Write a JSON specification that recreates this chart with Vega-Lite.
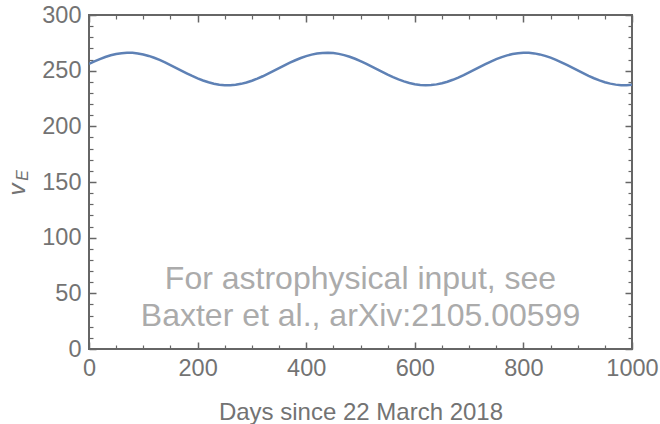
{
  "$schema": "https://vega.github.io/schema/vega-lite/v6.json",
  "width": 543,
  "height": 334,
  "autosize": {"type": "none"},
  "padding": {"left": 89, "top": 15, "right": 28, "bottom": 75},
  "background": "white",
  "config": {
    "view": {"stroke": "#666666", "strokeWidth": 2},
    "axis": {
      "domain": false,
      "grid": false,
      "labelFont": "Liberation Sans",
      "titleFont": "Liberation Sans",
      "labelColor": "#737373",
      "titleColor": "#737373",
      "tickColor": "#666666",
      "labelFontSize": 23.5,
      "labelFontWeight": "normal",
      "titleFontWeight": "normal"
    }
  },
  "datasets": {
    "curve": [
      {"day": 0, "v": 256.02}, {"day": 10, "v": 258.33}, {"day": 20, "v": 260.44}, {"day": 30, "v": 262.29},
      {"day": 40, "v": 263.81}, {"day": 50, "v": 264.97}, {"day": 60, "v": 265.74}, {"day": 70, "v": 266.08},
      {"day": 80, "v": 265.99}, {"day": 90, "v": 265.48}, {"day": 100, "v": 264.55}, {"day": 110, "v": 263.24},
      {"day": 120, "v": 261.58}, {"day": 130, "v": 259.63}, {"day": 140, "v": 257.43}, {"day": 150, "v": 255.06},
      {"day": 160, "v": 252.58}, {"day": 170, "v": 250.07}, {"day": 180, "v": 247.61}, {"day": 190, "v": 245.26},
      {"day": 200, "v": 243.09}, {"day": 210, "v": 241.17}, {"day": 220, "v": 239.56}, {"day": 230, "v": 238.30},
      {"day": 240, "v": 237.42}, {"day": 250, "v": 236.97}, {"day": 260, "v": 236.94}, {"day": 270, "v": 237.34},
      {"day": 280, "v": 238.16}, {"day": 290, "v": 239.38}, {"day": 300, "v": 240.95}, {"day": 310, "v": 242.84},
      {"day": 320, "v": 244.98}, {"day": 330, "v": 247.31}, {"day": 340, "v": 249.76}, {"day": 350, "v": 252.27},
      {"day": 360, "v": 254.75}, {"day": 370, "v": 257.14}, {"day": 380, "v": 259.36}, {"day": 390, "v": 261.36},
      {"day": 400, "v": 263.05}, {"day": 410, "v": 264.41}, {"day": 420, "v": 265.39}, {"day": 430, "v": 265.95},
      {"day": 440, "v": 266.09}, {"day": 450, "v": 265.80}, {"day": 460, "v": 265.09}, {"day": 470, "v": 263.98},
      {"day": 480, "v": 262.50}, {"day": 490, "v": 260.68}, {"day": 500, "v": 258.61}, {"day": 510, "v": 256.32},
      {"day": 520, "v": 253.89}, {"day": 530, "v": 251.39}, {"day": 540, "v": 248.89}, {"day": 550, "v": 246.47},
      {"day": 560, "v": 244.20}, {"day": 570, "v": 242.14}, {"day": 580, "v": 240.36}, {"day": 590, "v": 238.91},
      {"day": 600, "v": 237.83}, {"day": 610, "v": 237.15}, {"day": 620, "v": 236.90}, {"day": 630, "v": 237.08},
      {"day": 640, "v": 237.68}, {"day": 650, "v": 238.69}, {"day": 660, "v": 240.08}, {"day": 670, "v": 241.81},
      {"day": 680, "v": 243.82}, {"day": 690, "v": 246.06}, {"day": 700, "v": 248.46}, {"day": 710, "v": 250.95},
      {"day": 720, "v": 253.46}, {"day": 730, "v": 255.90}, {"day": 740, "v": 258.22}, {"day": 750, "v": 260.34},
      {"day": 760, "v": 262.20}, {"day": 770, "v": 263.74}, {"day": 780, "v": 264.92}, {"day": 790, "v": 265.71},
      {"day": 800, "v": 266.07}, {"day": 810, "v": 266.01}, {"day": 820, "v": 265.52}, {"day": 830, "v": 264.61},
      {"day": 840, "v": 263.31}, {"day": 850, "v": 261.67}, {"day": 860, "v": 259.73}, {"day": 870, "v": 257.54},
      {"day": 880, "v": 255.18}, {"day": 890, "v": 252.70}, {"day": 900, "v": 250.19}, {"day": 910, "v": 247.73},
      {"day": 920, "v": 245.37}, {"day": 930, "v": 243.19}, {"day": 940, "v": 241.26}, {"day": 950, "v": 239.63},
      {"day": 960, "v": 238.35}, {"day": 970, "v": 237.46}, {"day": 980, "v": 236.98}, {"day": 990, "v": 236.93},
      {"day": 1000, "v": 237.31}
    ],
    "note": [
      {"day": 500, "v": 53.6, "label": ["For astrophysical input, see", "Baxter et al., arXiv:2105.00599"]}
    ]
  },
  "layer": [
    {
      "data": {"name": "curve"},
      "mark": {"type": "line", "color": "#5e81b5", "strokeWidth": 2.5, "clip": true},
      "encoding": {
        "x": {
          "field": "day", "type": "quantitative",
          "scale": {"domain": [0, 1000], "nice": false, "zero": false},
          "axis": {
            "orient": "bottom",
            "values": [0, 200, 400, 600, 800, 1000],
            "format": "d",
            "tickSize": -7, "tickWidth": 1.5, "labelPadding": 14.5,
            "labelFlush": false, "labelOverlap": false,
            "title": "Days since 22 March 2018",
            "titleFontSize": 24, "titleAlign": "center", "titleBaseline": "alphabetic",
            "titleX": 271.5, "titleY": 70
          }
        },
        "y": {
          "field": "v", "type": "quantitative",
          "scale": {"domain": [0, 300], "nice": false, "zero": false},
          "axis": {
            "orient": "left",
            "values": [0, 50, 100, 150, 200, 250, 300],
            "format": "d",
            "tickSize": -7, "tickWidth": 1.5, "labelPadding": 15,
            "labelFlush": false, "labelOverlap": false,
            "title": "v",
            "titleFontStyle": "italic", "titleFontSize": 24,
            "titleAngle": 270, "titleAlign": "center", "titleBaseline": "alphabetic",
            "titleX": -65, "titleY": 174
          }
        }
      }
    },
    {
      "data": {"name": "curve"},
      "mark": {"type": "line", "opacity": 0},
      "encoding": {
        "x": {
          "field": "day", "type": "quantitative",
          "axis": {
            "orient": "bottom",
            "values": [50, 100, 150, 250, 300, 350, 450, 500, 550, 650, 700, 750, 850, 900, 950],
            "tickSize": -4, "tickWidth": 1.2, "labels": false, "title": null
          }
        },
        "y": {
          "field": "v", "type": "quantitative",
          "axis": {
            "orient": "left",
            "values": [10, 20, 30, 40, 60, 70, 80, 90, 110, 120, 130, 140, 160, 170, 180, 190, 210, 220, 230, 240, 260, 270, 280, 290],
            "tickSize": -4, "tickWidth": 1.2, "labels": false,
            "title": "E",
            "titleFontStyle": "italic", "titleFontSize": 16,
            "titleAngle": 270, "titleAlign": "center", "titleBaseline": "alphabetic",
            "titleX": -62, "titleY": 160
          }
        }
      }
    },
    {
      "data": {"name": "curve"},
      "mark": {"type": "line", "opacity": 0},
      "encoding": {
        "x": {
          "field": "day", "type": "quantitative",
          "axis": {
            "orient": "top",
            "values": [0, 200, 400, 600, 800, 1000],
            "tickSize": -7, "tickWidth": 1.5, "labels": false, "title": null
          }
        },
        "y": {
          "field": "v", "type": "quantitative",
          "axis": {
            "orient": "right",
            "values": [0, 50, 100, 150, 200, 250, 300],
            "tickSize": -7, "tickWidth": 1.5, "labels": false, "title": null
          }
        }
      }
    },
    {
      "data": {"name": "curve"},
      "mark": {"type": "line", "opacity": 0},
      "encoding": {
        "x": {
          "field": "day", "type": "quantitative",
          "axis": {
            "orient": "top",
            "values": [50, 100, 150, 250, 300, 350, 450, 500, 550, 650, 700, 750, 850, 900, 950],
            "tickSize": -4, "tickWidth": 1.2, "labels": false, "title": null
          }
        },
        "y": {
          "field": "v", "type": "quantitative",
          "axis": {
            "orient": "right",
            "values": [10, 20, 30, 40, 60, 70, 80, 90, 110, 120, 130, 140, 160, 170, 180, 190, 210, 220, 230, 240, 260, 270, 280, 290],
            "tickSize": -4, "tickWidth": 1.2, "labels": false, "title": null
          }
        }
      }
    },
    {
      "data": {"name": "note"},
      "mark": {
        "type": "text", "font": "Liberation Sans", "fontSize": 32,
        "color": "#ababab", "align": "center", "baseline": "alphabetic", "lineHeight": 37
      },
      "encoding": {
        "x": {"field": "day", "type": "quantitative", "axis": null},
        "y": {"field": "v", "type": "quantitative", "axis": null},
        "text": {"field": "label"}
      }
    }
  ],
  "resolve": {"axis": {"x": "independent", "y": "independent"}}
}
